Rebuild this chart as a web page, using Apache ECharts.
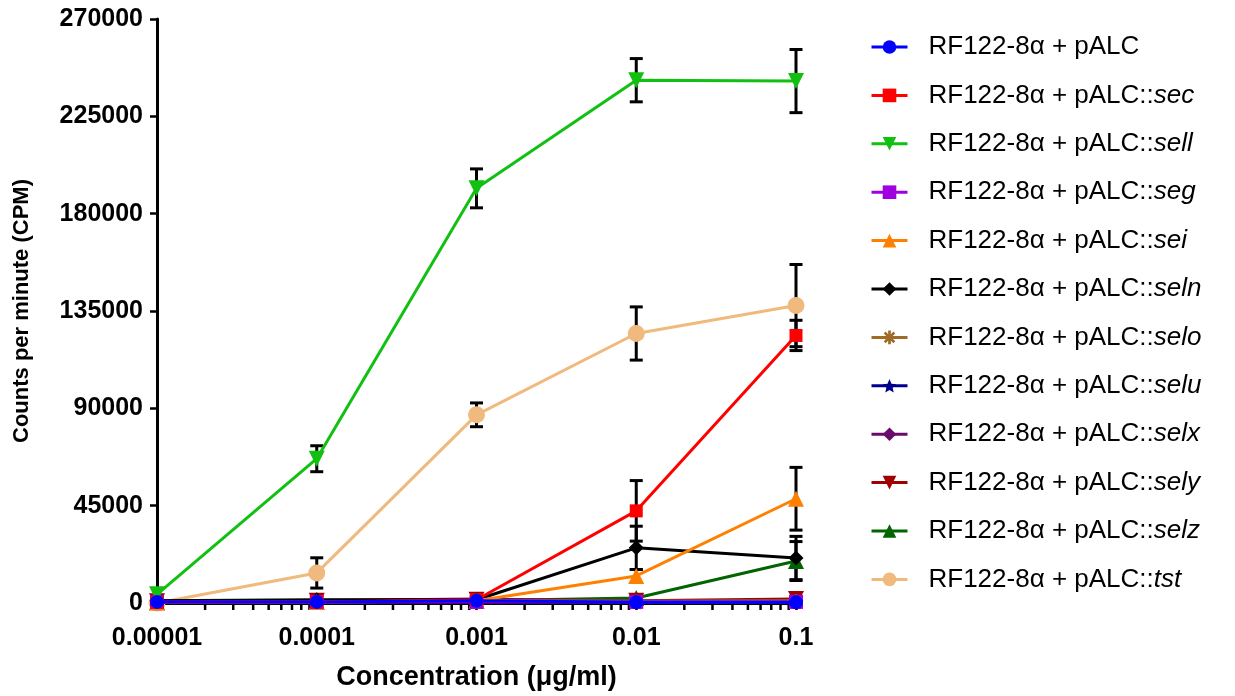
<!DOCTYPE html>
<html><head><meta charset="utf-8">
<script src="https://cdn.jsdelivr.net/npm/echarts@6/dist/echarts.min.js"></script>
<style>html,body{margin:0;padding:0;background:#fff}#c{width:1235px;height:696px}</style>
</head><body><div id="c"></div>
<script>
// ---------- DATA ----------
const concentrations = [0.00001, 0.0001, 0.001, 0.01, 0.1];
const xTickLabels = ['0.00001', '0.0001', '0.001', '0.01', '0.1'];
const yMin = 0, yMax = 270000, yStep = 45000;

const namePrefix = 'RF122-8\u03b1 + pALC';
const suffixes = ['', 'sec', 'sell', 'seg', 'sei', 'seln', 'selo', 'selu', 'selx', 'sely', 'selz', 'tst'];

const val_pALC = [500, 500, 1000, 300, 300];
const val_sec  = [300, 500, 1500, 42600, 123700];
const val_sell = [4000, 66700, 191700, 241700, 241300];
const val_seg  = [500, 500, 500, 500, 500];
const val_sei  = [200, 500, 1000, 12500, 48200];
const val_seln = [1000, 1500, 1500, 25500, 20800];
const val_selo = [500, 800, 1200, 800, 1000];
const val_selu = [300, 500, 800, 500, 600];
const val_selx = [1000, 1200, 1800, 800, 1000];
const val_sely = [800, 1000, 1500, 1000, 1800];
const val_selz = [300, 500, 1000, 2300, 19400];
const val_tst  = [0, 13900, 87000, 124600, 137500];

const err_pALC = [0, 0, 0, 0, 0];
const err_sec  = [0, 0, 500, 14000, 7000];
const err_sell = [0, 6000, 9000, 10000, 14600];
const err_seg  = [0, 0, 0, 0, 0];
const err_sei  = [0, 0, 0, 3000, 14500];
const err_seln = [0, 0, 0, 10000, 10000];
const err_selo = [0, 0, 0, 0, 0];
const err_selu = [0, 0, 0, 0, 0];
const err_selx = [0, 0, 0, 0, 0];
const err_sely = [0, 0, 0, 0, 0];
const err_selz = [0, 0, 0, 500, 9000];
const err_tst  = [0, 7000, 5500, 12300, 19000];

// ---------- STYLE ----------
const values = [val_pALC, val_sec, val_sell, val_seg, val_sei, val_seln, val_selo, val_selu, val_selx, val_sely, val_selz, val_tst];
const errors = [err_pALC, err_sec, err_sell, err_seg, err_sei, err_seln, err_selo, err_selu, err_selx, err_sely, err_selz, err_tst];
const colors = ['#0000FF', '#FF0000', '#11C011', '#A000E0', '#FF8000', '#000000', '#A06A28', '#000090', '#6A0A6A', '#A00000', '#006400', '#F0B97D'];
const DOWN = 'path://M0,0L20,0L10,18Z';
const STAR = 'path://M10,0L12.9,6.9L20,7.6L14.6,12.4L16.2,19.5L10,15.8L3.8,19.5L5.4,12.4L0,7.6L7.1,6.9Z';
const ASTER = 'path://M8,0H12V5.2L15.7,1.5L18.5,4.3L14.8,8H20V12H14.8L18.5,15.7L15.7,18.5L12,14.8V20H8V14.8L4.3,18.5L1.5,15.7L5.2,12H0V8H5.2L1.5,4.3L4.3,1.5L8,5.2Z';
const symbols = ['circle', 'rect', DOWN, 'rect', 'triangle', 'diamond', ASTER, STAR, 'diamond', DOWN, 'triangle', 'circle'];
const sizes = [14, 13, 16, 14, 16, 15, 13, 15, 14, 16, 16, 17];

const FONT = 'Liberation Sans, Arial, sans-serif';
const names = suffixes.map(s => s ? namePrefix + '::' + s : namePrefix);
const N = names.length;

const series = names.map((nm, i) => ({
  name: nm,
  type: 'line',
  data: concentrations.map((c, j) => [c, values[i][j]]),
  symbol: symbols[i],
  symbolSize: sizes[i],
  showSymbol: true,
  clip: false,
  z: 10 + (N - i),
  itemStyle: { color: colors[i] },
  lineStyle: { color: colors[i], width: 3 },
  emphasis: { disabled: true }
}));

// error bars
const errData = [];
names.forEach((nm, i) => {
  concentrations.forEach((c, j) => {
    const e = errors[i][j];
    if (e > 0) errData.push([c, values[i][j] - e, values[i][j] + e]);
  });
});
series.push({
  type: 'custom',
  name: 'errorbars',
  data: errData,
  encode: { x: 0, y: [1, 2] },
  clip: false,
  z: 5,
  silent: true,
  renderItem: function (params, api) {
    const x = api.value(0);
    const lo = api.coord([x, api.value(1)]);
    const hi = api.coord([x, api.value(2)]);
    const hw = 6.5;
    const st = { stroke: '#000', lineWidth: 3 };
    return {
      type: 'group',
      children: [
        { type: 'line', shape: { x1: hi[0], y1: hi[1], x2: lo[0], y2: lo[1] }, style: st },
        { type: 'line', shape: { x1: hi[0] - hw, y1: hi[1], x2: hi[0] + hw, y2: hi[1] }, style: st },
        { type: 'line', shape: { x1: lo[0] - hw, y1: lo[1], x2: lo[0] + hw, y2: lo[1] }, style: st }
      ]
    };
  }
});

// log minor ticks (2..9 within each decade)
const minorTicks = [];
for (let d = 0; d < concentrations.length - 1; d++) {
  for (let k = 2; k <= 9; k++) minorTicks.push([k * concentrations[d], 0]);
}
series.push({
  type: 'custom',
  name: 'minorticks',
  data: minorTicks,
  encode: { x: 0, y: 1 },
  clip: false,
  z: 2,
  silent: true,
  renderItem: function (params, api) {
    const p = api.coord([api.value(0), yMin]);
    return { type: 'line', shape: { x1: p[0], y1: p[1], x2: p[0], y2: p[1] + 7 }, style: { stroke: '#000', lineWidth: 2.5 } };
  }
});

const chart = echarts.init(document.getElementById('c'), null, { renderer: 'canvas' });
chart.setOption({
  animation: false,
  backgroundColor: '#fff',
  grid: { left: 157, right: 439, top: 19, bottom: 93, containLabel: false },
  legend: {
    data: names,
    orient: 'vertical',
    left: 870,
    top: 32,
    padding: 0,
    itemWidth: 36,
    itemHeight: 17,
    itemGap: 18.4,
    selectedMode: false,
    lineStyle: { width: 3 },
    formatter: function (name) {
      const parts = name.split('::');
      return parts.length > 1 ? '{a|' + parts[0] + '::}{b|' + parts[1] + '}' : '{a|' + parts[0] + '}';
    },
    textStyle: {
      fontFamily: FONT,
      fontSize: 26, color: '#000', lineHeight: 30,
      padding: [0, 0, 0, 16],
      rich: {
        a: { fontFamily: FONT, fontSize: 26, color: '#000', lineHeight: 30 },
        b: { fontFamily: FONT, fontSize: 26, color: '#000', lineHeight: 30, fontStyle: 'italic' }
      }
    }
  },
  xAxis: {
    type: 'log',
    logBase: 10,
    min: concentrations[0],
    max: concentrations[concentrations.length - 1],
    splitNumber: 4,
    name: 'Concentration (\u03bcg/ml)',
    nameLocation: 'middle',
    nameGap: 61,
    nameTextStyle: { fontFamily: FONT, fontWeight: 'bold', fontSize: 27, color: '#000' },
    axisLine: { show: true, onZero: false, lineStyle: { color: '#000', width: 3 } },
    axisTick: { show: true, length: 7, lineStyle: { color: '#000', width: 2.5 } },
    splitLine: { show: false },
    axisLabel: {
      margin: 23,
      fontFamily: FONT, fontWeight: 'bold', fontSize: 25, color: '#000',
      formatter: function (v) {
        const k = Math.round(Math.log10(v)) + 5;
        return xTickLabels[k] !== undefined ? xTickLabels[k] : '';
      }
    }
  },
  yAxis: {
    type: 'value',
    min: yMin, max: yMax, interval: yStep,
    name: 'Counts per minute (CPM)',
    nameLocation: 'middle',
    nameGap: 124,
    nameTextStyle: { fontFamily: FONT, fontWeight: 'bold', fontSize: 22, color: '#000' },
    axisLine: { show: true, lineStyle: { color: '#000', width: 3 } },
    axisTick: { show: true, length: 7, lineStyle: { color: '#000', width: 2.5 } },
    splitLine: { show: false },
    axisLabel: {
      margin: 14,
      fontFamily: FONT, fontWeight: 'bold', fontSize: 25, color: '#000',
      formatter: function (v) { return String(v); }
    }
  },
  series: series
});
</script>
</body></html>
